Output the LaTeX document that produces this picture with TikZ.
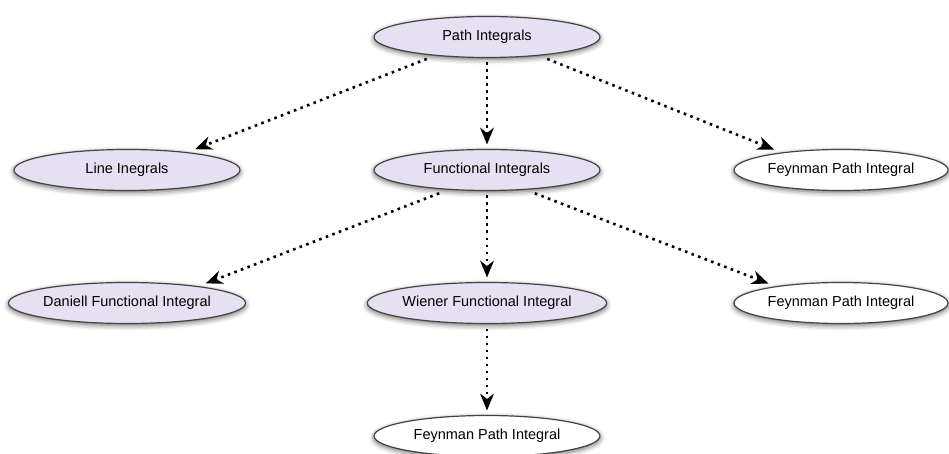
\documentclass[tikz,border=0pt]{standalone}
\usepackage{fontspec}
\setmainfont{Liberation Sans}
\usetikzlibrary{shapes.geometric,arrows.meta,shadows.blur}

\definecolor{lav}{HTML}{E6E0F2}
\definecolor{rim}{HTML}{444444}

\tikzset{
  topic/.style={ellipse, draw=rim, line width=1.2pt, fill=lav,
    minimum width=226pt, minimum height=41pt, inner sep=0pt, outer sep=5pt,
    font=\fontsize{14.5}{16}\selectfont,
    blur shadow={shadow xshift=0pt, shadow yshift=-2pt,
      shadow blur radius=5pt, shadow opacity=60}},
  leaf/.style={topic, fill=white},
  narrowleaf/.style={leaf, minimum width=214pt},
  link/.style={line width=2.6pt, dash pattern=on 2.6pt off 4.4pt,
    -{Stealth[length=17pt, width=14pt, inset=5.5pt, line width=0pt]}}
}

\begin{document}
\begin{tikzpicture}[x=1pt, y=-1pt]
  \useasboundingbox (0,0) rectangle (949,454);

  \node[topic] (pi) at (487,37) {Path Integrals};
  \node[topic] (li) at (127,170) {Line Inegrals};
  \node[topic] (fi) at (487,170) {Functional Integrals};
  \node[narrowleaf] (f1) at (841,170) {Feynman Path Integral};
  \node[topic] (dn) at (127,303) {Daniell Functional Integral};
  \node[topic] (wi) at (487,303) {Wiener Functional Integral};
  \node[narrowleaf] (f2) at (841,303) {Feynman Path Integral};
  \node[leaf] (f3) at (487,436) {Feynman Path Integral};

  \draw[link] (pi.200) -- (li.17);
  \draw[link] (pi.south) -- (fi.north);
  \draw[link] (pi.340) -- (f1.163);
  \draw[link] (fi.206) -- (dn.14);
  \draw[link] (fi.south) -- (wi.north);
  \draw[link] (fi.334) -- (f2.165);
  \draw[link] (wi.south) -- (f3.north);
\end{tikzpicture}
\end{document}
